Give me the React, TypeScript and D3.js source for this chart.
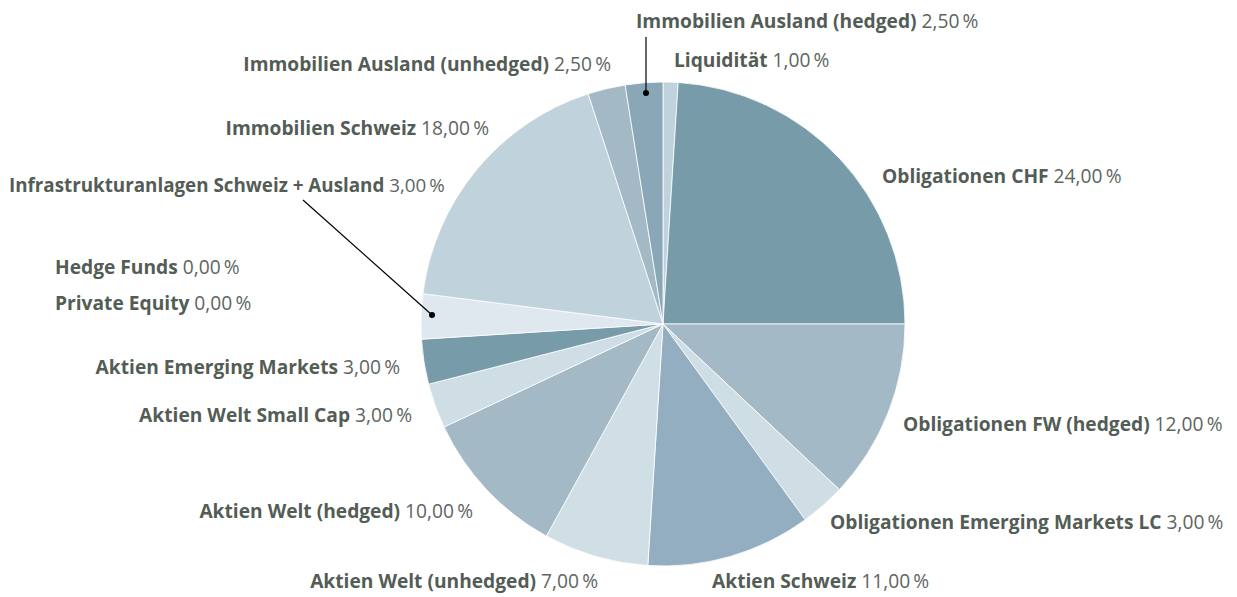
import React from "react";
import * as d3 from "d3";

const categories = [
  "Liquidität",
  "Obligationen CHF",
  "Obligationen FW (hedged)",
  "Obligationen Emerging Markets LC",
  "Aktien Schweiz",
  "Aktien Welt (unhedged)",
  "Aktien Welt (hedged)",
  "Aktien Welt Small Cap",
  "Aktien Emerging Markets",
  "Private Equity",
  "Hedge Funds",
  "Infrastrukturanlagen Schweiz + Ausland",
  "Immobilien Schweiz",
  "Immobilien Ausland (unhedged)",
  "Immobilien Ausland (hedged)",
];
const values = [1, 24, 12, 3, 11, 7, 10, 3, 3, 0, 0, 3, 18, 2.5, 2.5];
const colors = [
  "#c0d2dc", "#789baa", "#a3b9c6", "#cfdde4", "#92aec0", "#d0dee5", "#a3b9c6",
  "#cfdde4", "#789baa", "#dfe7ef", "#dfe7ef", "#dfe7ef", "#c0d2dc", "#a3b9c6", "#8aa7b8",
];

// label layout (x, baseline y, anchor)
const labelLayout: [number, number, "start" | "end"][] = [
  [674, 67, "start"],
  [882, 183, "start"],
  [903, 431, "start"],
  [830, 529, "start"],
  [712, 588, "start"],
  [598, 588, "end"],
  [473, 518, "end"],
  [412, 422, "end"],
  [400, 374, "end"],
  [55, 310, "start"],
  [55, 274, "start"],
  [9, 192, "start"],
  [489, 135, "end"],
  [611, 71, "end"],
  [636, 28, "start"],
];
// leader lines: index -> [x1,y1,x2,y2]
const leaders: { i: number; pts: [number, number, number, number] }[] = [
  { i: 14, pts: [646, 37, 646, 93] },
  { i: 11, pts: [303, 200, 432, 315] },
];

const fmt = (v: number) => v.toFixed(2).replace(".", ",") + "\u2009%";

export default function App() {
  const W = 1237, H = 597;
  const cx = 663, cy = 324, r = 242;
  const data = categories.map((c, i) => ({ c, v: values[i], i }));
  const pie = d3.pie<any>().value((d) => d.v).sort(null)(data);
  const arc = d3.arc<any>().innerRadius(0).outerRadius(r);
  const font = "'Open Sans', 'Noto Sans', sans-serif";
  return (
    <svg width={W} height={H} style={{ position: "absolute", left: 0, top: 0, background: "#fff" }}>
      <g transform={`translate(${cx},${cy})`}>
        {pie.filter((p) => p.data.v > 0).map((p) => (
          <path key={p.data.c} d={arc(p) as string} fill={colors[p.data.i]} stroke="#fff" strokeWidth={0.8} />
        ))}
      </g>
      {leaders.map(({ i, pts }) => (
        <g key={i}>
          <line x1={pts[0]} y1={pts[1]} x2={pts[2]} y2={pts[3]} stroke="#000" strokeWidth={1.2} />
          <circle cx={pts[2]} cy={pts[3]} r={3} fill="#000" />
        </g>
      ))}
      {categories.map((c, i) => {
        const [x, y, a] = labelLayout[i];
        return (
          <text key={c} x={x} y={y} textAnchor={a} fontFamily={font} fontSize={i === 11 ? 18.8 : 19.2} fill="#535d56">
            <tspan fontWeight={700}>{c}</tspan>
            <tspan fontWeight={400} fill="#5d665f">{" " + fmt(values[i])}</tspan>
          </text>
        );
      })}
    </svg>
  );
}
